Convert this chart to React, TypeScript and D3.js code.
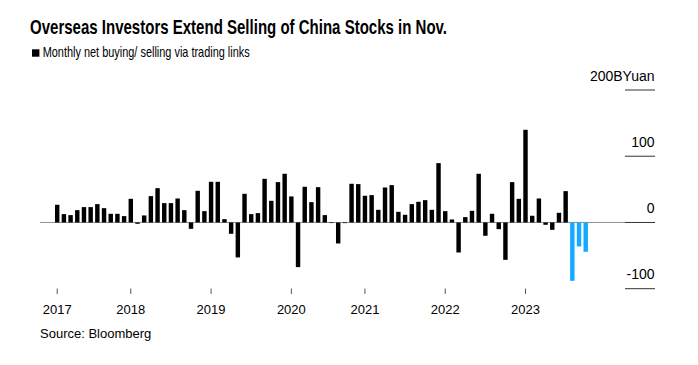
import React from 'react';
import * as d3 from 'd3';

// monthly northbound net buying, billion yuan
const months = [
  '2017-03', '2017-04', '2017-05', '2017-06', '2017-07', '2017-08', '2017-09', '2017-10', '2017-11', '2017-12',
  '2018-01', '2018-02', '2018-03', '2018-04', '2018-05', '2018-06', '2018-07', '2018-08', '2018-09', '2018-10', '2018-11', '2018-12',
  '2019-01', '2019-02', '2019-03', '2019-04', '2019-05', '2019-06', '2019-07', '2019-08', '2019-09', '2019-10', '2019-11', '2019-12',
  '2020-01', '2020-02', '2020-03', '2020-04', '2020-05', '2020-06', '2020-07', '2020-08', '2020-09', '2020-10', '2020-11', '2020-12',
  '2021-01', '2021-02', '2021-03', '2021-04', '2021-05', '2021-06', '2021-07', '2021-08', '2021-09', '2021-10', '2021-11', '2021-12',
  '2022-01', '2022-02', '2022-03', '2022-04', '2022-05', '2022-06', '2022-07', '2022-08', '2022-09', '2022-10', '2022-11', '2022-12',
  '2023-01', '2023-02', '2023-03', '2023-04', '2023-05', '2023-06', '2023-07', '2023-08', '2023-09', '2023-10',
];

const netFlows = [
  26.7, 12.6, 11.1, 18.6, 23.2, 23.2, 27.7, 21.6, 13.1, 13.1,
  9.6, 35.7, -2.0, 10.6, 39.8, 51.8, 29.2, 29.2, 36.2, 18.6, -9.6, 47.8,
  17.1, 61.4, 61.4, 5.0, -17.1, -52.8, 43.3, 12.6, 14.1, 65.9, 32.7, 60.9,
  73.5, 39.3, -67.4, 53.9, 30.7, 53.3, 11.1, -0.8, -31.7, -1.0, 58.4, 57.9,
  40.3, 41.3, 19.1, 52.8, 56.4, 16.1, 11.6, 27.7, 31.2, 33.7, 19.1, 89.6,
  17.1, 4.5, -45.3, 8.1, 17.6, 73.5, -20.1, 13.1, -10.1, -56.4, 60.9, 35.7,
  139.9, 10.1, 36.2, -3.5, -11.1, 14.6, 47.3, -88.1, -36.2, -44.3,
];

const highlighted = ['2023-08', '2023-09', '2023-10'];

const yearTickMonths = ['2017-03', '2018-02', '2019-02', '2020-02', '2021-01', '2022-01', '2023-01'];
const yearTickLabels = ['2017', '2018', '2019', '2020', '2021', '2022', '2023'];

const yTicks = [-100, 0, 100, 200];

const W = 698;
const H = 365;
const font = '"Liberation Sans", Arial, Helvetica, sans-serif';

export default function App() {
  const x = d3
    .scaleBand<string>()
    .domain(months)
    .range([53.86, 589.06])
    .paddingInner(0.34)
    .paddingOuter(0.17);

  const y = d3.scaleLinear().domain([-100, 200]).range([288.7, 90]);

  const data = months.map((m, i) => ({ month: m, value: netFlows[i] }));

  return (
    <svg
      width={W}
      height={H}
      style={{ position: 'absolute', left: 0, top: 0, background: '#fff' }}
    >
      <text
        x={30}
        y={33.5}
        fontFamily={font}
        fontWeight="bold"
        fontSize={21}
        textLength={417}
        lengthAdjust="spacingAndGlyphs"
        fill="#000"
      >
        Overseas Investors Extend Selling of China Stocks in Nov.
      </text>

      <rect x={32} y={49.3} width={7.4} height={7.4} fill="#000" />
      <text
        x={42.7}
        y={57.3}
        fontFamily={font}
        fontSize={15}
        textLength={207}
        lengthAdjust="spacingAndGlyphs"
        fill="#000"
      >
        Monthly net buying/ selling via trading links
      </text>

      {/* baseline */}
      <line x1={40} x2={625} y1={y(0)} y2={y(0)} stroke="#8f8f8f" strokeWidth={1} />

      {data.map(d => {
        const top = d.value >= 0 ? y(d.value) : y(0);
        const h = Math.abs(y(d.value) - y(0));
        return (
          <rect
            key={d.month}
            x={x(d.month)}
            y={top}
            width={x.bandwidth()}
            height={Math.max(h, 0.6)}
            fill={highlighted.includes(d.month) ? '#14aaff' : '#000'}
          />
        );
      })}

      {/* y axis on the right */}
      {yTicks.map(t => (
        <g key={t}>
          <line x1={625} x2={655} y1={y(t)} y2={y(t)} stroke="#333" strokeWidth={1} />
          <text
            x={654.5}
            y={y(t) - 9.4}
            textAnchor="end"
            fontFamily={font}
            fontSize={14}
            fill="#000"
          >
            {t === 200 ? '200BYuan' : t}
          </text>
        </g>
      ))}

      {/* x axis years */}
      {yearTickMonths.map((m, i) => {
        const cx = (x(m) as number) + x.bandwidth() / 2;
        return (
          <g key={m}>
            <line x1={cx} x2={cx} y1={288.5} y2={294} stroke="#555" strokeWidth={1} />
            <text
              x={cx}
              y={314}
              textAnchor="middle"
              fontFamily={font}
              fontSize={13}
              fill="#000"
            >
              {yearTickLabels[i]}
            </text>
          </g>
        );
      })}

      <text x={40} y={337.5} fontFamily={font} fontSize={13} fill="#000">
        Source: Bloomberg
      </text>
    </svg>
  );
}
